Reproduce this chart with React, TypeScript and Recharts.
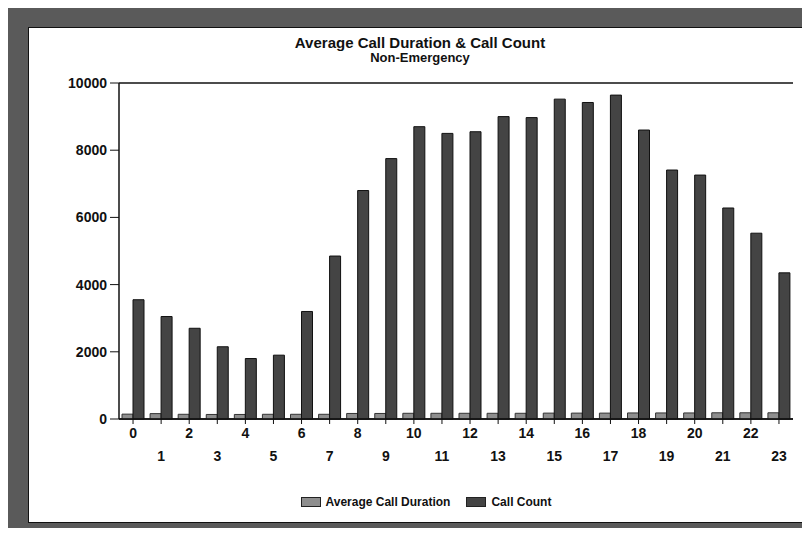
import React from 'react';
import { BarChart, Bar, XAxis, YAxis, CartesianGrid } from 'recharts';

// hours of the day
const HOURS = ['0', '1', '2', '3', '4', '5', '6', '7', '8', '9', '10', '11', '12', '13', '14', '15', '16', '17', '18', '19', '20', '21', '22', '23'];

const CALL_COUNT = [3550, 3050, 2700, 2150, 1800, 1900, 3200, 4850, 6800, 7750, 8700, 8500, 8550, 9000, 8970, 9520, 9420, 9640, 8600, 7410, 7260, 6280, 5530, 4350];
const AVG_DURATION = [145, 160, 140, 135, 135, 140, 140, 140, 165, 165, 170, 170, 170, 170, 170, 175, 175, 175, 180, 180, 180, 185, 185, 185];

const Y_TICKS = [0, 2000, 4000, 6000, 8000, 10000];

const TITLE = 'Average Call Duration & Call Count';
const SUBTITLE = 'Non-Emergency';

const FONT = '"Liberation Sans", Arial, sans-serif';

const data = HOURS.map((h, i) => ({
  hour: h,
  avg: AVG_DURATION[i],
  count: CALL_COUNT[i],
}));

// even hours on the first row, odd ones dropped to a second row
const HourTick = (props: any) => {
  const { x, y, payload, index } = props;
  const odd = index % 2 === 1;
  return (
    <text
      x={x}
      y={y + (odd ? 35 : 12)}
      textAnchor="middle"
      fontFamily={FONT}
      fontWeight="bold"
      fontSize={14}
      fill="#111"
    >
      {payload.value}
    </text>
  );
};

const Swatch: React.FC<{ color: string }> = ({ color }) => (
  <span
    style={{
      display: 'inline-block',
      width: 18,
      height: 8,
      background: color,
      border: '1px solid #222',
      marginRight: 5,
    }}
  />
);

export default function App() {
  return (
    <div style={{ margin: -8, width: 810, height: 536, position: 'relative', background: '#5a5a5a', overflow: 'hidden' }}>
      {/* white paper panel inside the dark scanned frame */}
      <div
        style={{
          position: 'absolute',
          left: 28,
          top: 27,
          width: 777,
          height: 494,
          background: '#fff',
          border: '1px solid #111',
        }}
      />

      <div style={{ position: 'absolute', left: 0, width: 840, top: 34, textAlign: 'center', fontFamily: FONT, color: '#111' }}>
        <div style={{ fontSize: 15, fontWeight: 'bold', lineHeight: '17px' }}>{TITLE}</div>
        <div style={{ fontSize: 13, fontWeight: 'bold', lineHeight: '16px', marginTop: -1 }}>{SUBTITLE}</div>
      </div>

      <div style={{ position: 'absolute', left: 0, top: 0 }}>
        <BarChart
          width={810}
          height={536}
          data={data}
          margin={{ top: 83, right: 17, left: 59, bottom: 67 }}
          barGap={0}
          barSize={11}
        >
          <CartesianGrid vertical={false} stroke="#111" strokeWidth={1.5} />
          <XAxis
            dataKey="hour"
            height={50}
            interval={0}
            tickSize={5}
            tickLine={{ stroke: '#111' }}
            axisLine={{ stroke: '#111', strokeWidth: 1.5 }}
            tick={<HourTick />}
          />
          <YAxis
            yAxisId="left"
            width={60}
            domain={[0, 10000]}
            ticks={Y_TICKS}
            interval={0}
            tickSize={9}
            tickMargin={3}
            tickLine={{ stroke: '#111' }}
            axisLine={{ stroke: '#111', strokeWidth: 1.5 }}
            tick={{ fontFamily: FONT, fontWeight: 'bold', fontSize: 14, fill: '#111' }}
          />
          <YAxis
            yAxisId="right"
            orientation="right"
            width={0}
            domain={[0, 10000]}
            tick={false}
            tickLine={false}
            axisLine={{ stroke: '#111', strokeWidth: 1.5 }}
          />
          <Bar yAxisId="left" dataKey="avg" name="Average Call Duration" fill="#8e8e8e" stroke="#333" strokeWidth={1} isAnimationActive={false} />
          <Bar yAxisId="left" dataKey="count" name="Call Count" fill="#444" stroke="#111" strokeWidth={1} isAnimationActive={false} />
        </BarChart>
      </div>

      <div
        style={{
          position: 'absolute',
          left: 0,
          width: 852,
          top: 495,
          display: 'flex',
          justifyContent: 'center',
          alignItems: 'center',
          fontFamily: FONT,
          fontSize: 12,
          fontWeight: 'bold',
          color: '#111',
        }}
      >
        <Swatch color="#8e8e8e" />
        <span style={{ marginRight: 16 }}>Average Call Duration</span>
        <Swatch color="#444" />
        <span>Call Count</span>
      </div>
    </div>
  );
}
